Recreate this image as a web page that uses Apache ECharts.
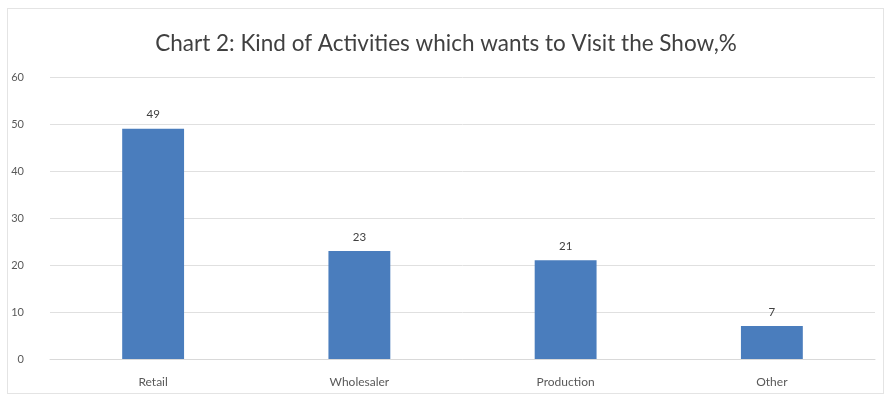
<!DOCTYPE html>
<html>
<head>
<meta charset="utf-8">
<script src="https://cdn.jsdelivr.net/npm/echarts@6/dist/echarts.min.js"></script>
<style>
  html, body { margin: 0; padding: 0; background: #fff; }
  #wrap { position: relative; width: 892px; height: 400px; }
  #frame { position: absolute; left: 7px; top: 8px; width: 877px; height: 386px; border: 1px solid #e4e4e4; box-sizing: border-box; }
  #chart { position: absolute; left: 0; top: 0; width: 892px; height: 400px; }
</style>
</head>
<body>
<div id="wrap">
  <div id="frame"></div>
  <div id="chart"></div>
</div>
<script>
// activity categories and share of visitors, %
const categories = ['Retail', 'Wholesaler', 'Production', 'Other'];
const shares = [49, 23, 21, 7];

const chart = echarts.init(document.getElementById('chart'));
const option = {
  title: {
    text: 'Chart 2: Kind of Activities which wants to Visit the Show,%',
    left: 'center',
    top: 27,
    textStyle: {
      fontFamily: 'Lato',
      fontSize: 22.5,
      fontWeight: 'normal',
      color: '#404040'
    }
  },
  grid: {
    left: 50,
    right: 17,
    top: 77,
    bottom: 41
  },
  xAxis: {
    type: 'category',
    data: categories,
    axisTick: { show: false },
    axisLine: { lineStyle: { color: '#d9d9d9' } },
    axisLabel: {
      fontFamily: 'Lato',
      fontSize: 12,
      color: '#595959',
      margin: 17
    }
  },
  yAxis: {
    type: 'value',
    min: 0,
    max: 60,
    interval: 10,
    axisLine: { show: false },
    axisTick: { show: false },
    splitLine: { lineStyle: { color: '#e0e0e0' } },
    axisLabel: {
      fontFamily: 'Lato',
      fontSize: 11,
      color: '#595959',
      margin: 26
    }
  },
  series: [
    {
      type: 'bar',
      data: shares,
      barWidth: '30%',
      itemStyle: { color: '#4a7dbd' },
      label: {
        show: true,
        position: 'top',
        distance: 8,
        fontFamily: 'Lato',
        fontSize: 11.5,
        color: '#404040'
      }
    }
  ]
};
chart.setOption(option);
</script>
</body>
</html>
